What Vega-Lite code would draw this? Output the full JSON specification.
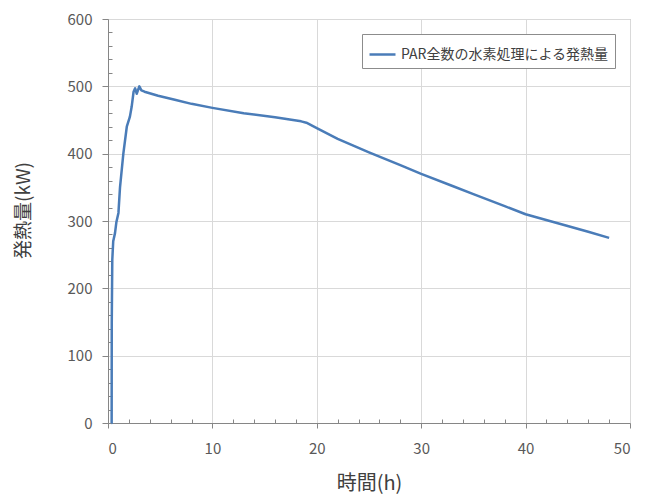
{
  "$schema": "https://vega.github.io/schema/vega-lite/v6.json",
  "width": 522,
  "height": 404,
  "autosize": "none",
  "padding": {"left": 108, "top": 19, "right": 17, "bottom": 75},
  "background": "white",
  "config": {
    "font": "Noto Sans CJK JP",
    "view": {"stroke": "#a6a6a6", "strokeWidth": 1}
  },
  "data": {
    "values": [
      {"t": 0.33, "v": 0},
      {"t": 0.35, "v": 0},
      {"t": 0.36, "v": 148},
      {"t": 0.41, "v": 242},
      {"t": 0.5, "v": 270},
      {"t": 0.67, "v": 282},
      {"t": 0.8, "v": 298},
      {"t": 1.0, "v": 312},
      {"t": 1.15, "v": 350},
      {"t": 1.47, "v": 400},
      {"t": 1.8, "v": 440},
      {"t": 2.1, "v": 455},
      {"t": 2.27, "v": 470},
      {"t": 2.45, "v": 492},
      {"t": 2.6, "v": 497},
      {"t": 2.75, "v": 489},
      {"t": 3.0, "v": 500},
      {"t": 3.2, "v": 494},
      {"t": 3.5, "v": 492},
      {"t": 4.8, "v": 486},
      {"t": 6.4, "v": 480},
      {"t": 8, "v": 474},
      {"t": 10, "v": 468},
      {"t": 13, "v": 460},
      {"t": 16, "v": 454},
      {"t": 18.5, "v": 448},
      {"t": 19, "v": 446},
      {"t": 20, "v": 438},
      {"t": 22, "v": 422},
      {"t": 25, "v": 402},
      {"t": 28, "v": 383},
      {"t": 30, "v": 370},
      {"t": 33, "v": 352},
      {"t": 35, "v": 340},
      {"t": 38, "v": 322},
      {"t": 40, "v": 310},
      {"t": 43, "v": 297},
      {"t": 46, "v": 284},
      {"t": 48, "v": 275}
    ]
  },
  "layer": [
    {
      "mark": {"type": "line", "strokeWidth": 2.5, "strokeJoin": "round"},
      "encoding": {
        "x": {
          "field": "t", "type": "quantitative",
          "scale": {"domain": [0, 50], "nice": false},
          "axis": {
            "orient": "bottom",
            "title": "時間(h)", "values": [0, 10, 20, 30, 40, 50],
            "grid": true, "gridColor": "#d9d9d9", "gridWidth": 1,
            "domainColor": "#868686", "tickColor": "#868686", "tickSize": 5,
            "labelFontSize": 15, "labelColor": "#595959", "labelPadding": 13,
            "labelFont": "Noto Sans CJK JP",
            "titleFontSize": 20, "titleFontWeight": "normal", "titleColor": "#404040",
            "titlePadding": 17, "titleFont": "Noto Sans CJK JP"
          }
        },
        "y": {
          "field": "v", "type": "quantitative",
          "scale": {"domain": [0, 600], "nice": false},
          "axis": {
            "orient": "left",
            "title": "発熱量(kW)", "values": [0, 100, 200, 300, 400, 500, 600],
            "grid": true, "gridColor": "#d9d9d9", "gridWidth": 1,
            "domainColor": "#868686", "tickColor": "#868686", "tickSize": 6,
            "labelFontSize": 15, "labelColor": "#595959", "labelPadding": 10,
            "labelFont": "Noto Sans CJK JP",
            "titleFontSize": 19, "titleFontWeight": "normal", "titleColor": "#404040",
            "titlePadding": 34, "titleFont": "Noto Sans CJK JP", "titleY": 191
          }
        },
        "color": {
          "datum": "PAR全数の水素処理による発熱量",
          "type": "nominal",
          "scale": {"range": ["#4a7cb8"]},
          "legend": {
            "title": null,
            "orient": "none",
            "legendX": 254,
            "legendY": 15,
            "symbolType": "stroke",
            "symbolSize": 676,
            "symbolStrokeWidth": 2.5,
            "labelFontSize": 14,
            "labelColor": "#404040",
            "labelFont": "Noto Sans CJK JP",
            "labelLimit": 0,
            "labelOffset": 4,
            "padding": 6,
            "strokeColor": "#8c8c8c",
            "fillColor": "white"
          }
        }
      }
    },
    {
      "mark": {"type": "line", "opacity": 0},
      "encoding": {
        "x": {
          "field": "t", "type": "quantitative",
          "scale": {"domain": [0, 50], "nice": false},
          "axis": {
            "orient": "bottom",
            "title": null, "labels": false, "grid": false, "domain": false,
            "values": [2, 4, 6, 8, 12, 14, 16, 18, 22, 24, 26, 28, 32, 34, 36, 38, 42, 44, 46, 48],
            "tickColor": "#868686", "tickSize": -4
          }
        },
        "y": {
          "field": "v", "type": "quantitative",
          "scale": {"domain": [0, 600], "nice": false},
          "axis": {
            "orient": "left",
            "title": null, "labels": false, "grid": false, "domain": false,
            "values": [20, 40, 60, 80, 120, 140, 160, 180, 220, 240, 260, 280, 320, 340, 360, 380, 420, 440, 460, 480, 520, 540, 560, 580],
            "tickColor": "#868686", "tickSize": -4
          }
        }
      }
    }
  ],
  "resolve": {"axis": {"x": "independent", "y": "independent"}}
}
